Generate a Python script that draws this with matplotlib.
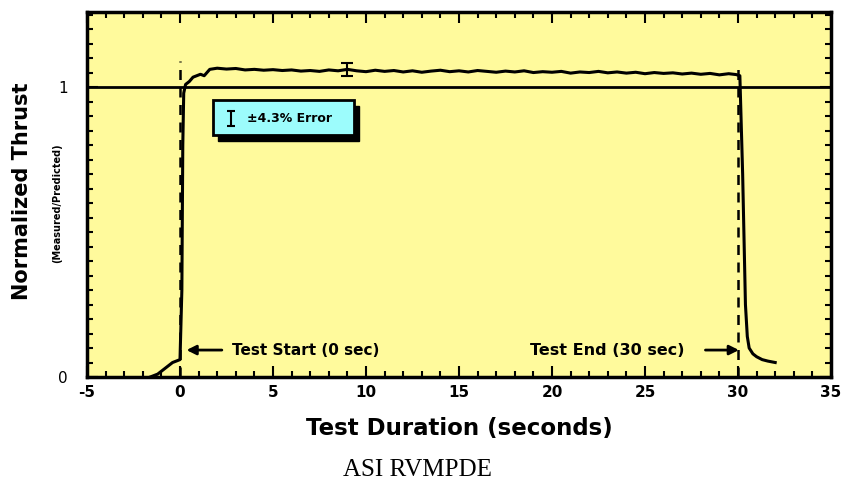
import matplotlib.pyplot as plt
from matplotlib.patches import Rectangle
from matplotlib.ticker import MultipleLocator

# measured / predicted thrust
time_s = [-1.6, -1.2, -0.8, -0.6, -0.4, -0.2, 0.0, 0.1, 0.15, 0.2, 0.3, 0.5, 0.7,
          0.9, 1.1, 1.3, 1.6, 2.0, 2.5, 3.0, 3.5, 4.0, 4.5, 5.0, 5.5, 6.0, 6.5, 7.0,
          7.5, 8.0, 8.5, 9.0, 9.5, 10.0, 10.5, 11.0, 11.5, 12.0, 12.5, 13.0, 13.5,
          14.0, 14.5, 15.0, 15.5, 16.0, 16.5, 17.0, 17.5, 18.0, 18.5, 19.0, 19.5,
          20.0, 20.5, 21.0, 21.5, 22.0, 22.5, 23.0, 23.5, 24.0, 24.5, 25.0, 25.5,
          26.0, 26.5, 27.0, 27.5, 28.0, 28.5, 29.0, 29.5, 29.9, 30.1, 30.25, 30.4,
          30.5, 30.6, 30.8, 31.0, 31.3, 31.6, 32.0]
thrust = [0.0, 0.01, 0.03, 0.04, 0.05, 0.055, 0.06, 0.3, 0.8, 0.98, 1.01, 1.02, 1.035,
          1.04, 1.045, 1.04, 1.062, 1.066, 1.063, 1.065, 1.06, 1.062, 1.059, 1.061, 1.058, 1.06, 1.056, 1.058,
          1.055, 1.06, 1.057, 1.062, 1.057, 1.054, 1.059, 1.055, 1.058, 1.053, 1.057, 1.052, 1.056,
          1.059, 1.054, 1.057, 1.053, 1.058, 1.055, 1.052, 1.056, 1.053, 1.057, 1.051, 1.054,
          1.052, 1.055, 1.049, 1.053, 1.051, 1.055, 1.05, 1.053, 1.049, 1.052, 1.047, 1.051,
          1.048, 1.05, 1.046, 1.049, 1.045, 1.048, 1.043, 1.047, 1.044, 1.04, 0.7, 0.25,
          0.14, 0.1, 0.08, 0.07, 0.06, 0.055, 0.05]

xticks = [-5, 0, 5, 10, 15, 20, 25, 30, 35]
yticks = [0, 1]

yellow = '#fffa9c'
cyan = '#9cfcfc'

plt.rcParams['font.family'] = ['DejaVu Sans']

fig = plt.figure(figsize=(8.51, 4.82), dpi=100)
ax = fig.add_axes([87/851, 1-377/482, (831-87)/851, (377-12)/482])
ax.set_facecolor(yellow)

ax.axhline(1.0, color='black', lw=2.0, zorder=2)
ax.plot([0, 0], [0, 1.09], color='black', lw=1.8, ls=(0, (4, 3)), zorder=2)
ax.plot([30, 30], [0, 1.07], color='black', lw=1.8, ls=(0, (4, 3)), zorder=2)
ax.plot(time_s, thrust, color='black', lw=2.2, zorder=3)
ax.errorbar([9.0], [1.062], yerr=[0.022], color='black', lw=1.5, capsize=4, capthick=1.5, zorder=4)

# legend box with drop shadow
ax.add_patch(Rectangle((2.05, 0.815), 7.6, 0.12, facecolor='black', edgecolor='black', zorder=4))
ax.add_patch(Rectangle((1.75, 0.835), 7.6, 0.12, facecolor=cyan, edgecolor='black', lw=2, zorder=5))
ax.errorbar([2.75], [0.893], yerr=[0.025], color='black', lw=1.5, capsize=3, capthick=1.5, zorder=6)
ax.text(3.6, 0.893, '\u00b14.3% Error', fontsize=9, fontweight='bold', va='center', ha='left', zorder=6)

# start / end annotations
ax.annotate('', xy=(0.2, 0.093), xytext=(2.4, 0.093),
            arrowprops=dict(arrowstyle='-|>', color='black', lw=2, mutation_scale=14))
ax.text(2.8, 0.093, 'Test Start (0 sec)', fontsize=11, fontweight='bold', va='center', ha='left')
ax.annotate('', xy=(30.2, 0.093), xytext=(28.1, 0.093),
            arrowprops=dict(arrowstyle='-|>', color='black', lw=2, mutation_scale=14))
ax.text(27.1, 0.093, 'Test End (30 sec)', fontsize=11.5, fontweight='bold', va='center', ha='right')

ax.set_xlim(-5, 35)
ax.set_ylim(0, 1.26)
ax.set_xticks(xticks)
ax.set_xticklabels([str(v) for v in xticks], fontsize=11, fontweight='bold')
ax.set_yticks(yticks)
ax.set_yticklabels([str(v) for v in yticks], fontsize=11)
ax.xaxis.set_minor_locator(MultipleLocator(1))
ax.yaxis.set_minor_locator(MultipleLocator(0.05))
ax.tick_params(which='both', direction='in', top=True, right=True, width=1.5)
ax.tick_params(which='major', length=8)
ax.tick_params(which='minor', length=4)
ax.tick_params(axis='y', which='major', pad=14)
ax.tick_params(axis='x', which='major', pad=6)
for s in ax.spines.values():
    s.set_linewidth(2.5)

ax.set_xlabel('Test Duration (seconds)', fontsize=16.5, fontweight='bold', labelpad=12)
fig.text(22/851, 1-191/482, 'Normalized Thrust', rotation=90, fontsize=15, fontweight='bold',
         ha='center', va='center')
fig.text(57/851, 1-203/482, '(Measured/Predicted)', rotation=90, fontsize=7, fontweight='bold',
         ha='center', va='center')
fig.text(417/851, 1-470/482, 'ASI RVMPDE', fontsize=18, family='Liberation Serif',
         ha='center', va='center')

fig.savefig('out.png', dpi=100)
